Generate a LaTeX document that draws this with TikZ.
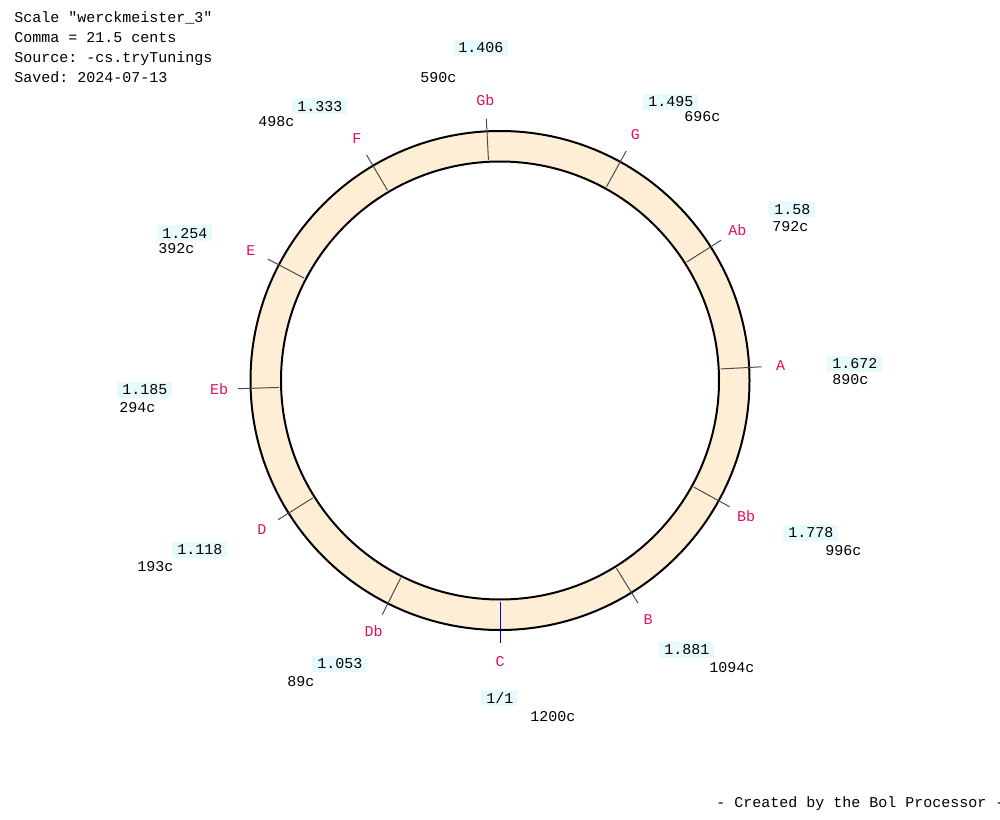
\documentclass[tikz,border=0pt]{standalone}
\usepackage{fontspec}
\setmonofont{Liberation Mono}
\definecolor{ringfill}{HTML}{FFEED6}
\definecolor{notered}{HTML}{E0105E}
\definecolor{ratiobg}{HTML}{E8FBFC}
\usetikzlibrary{calc, positioning}
\newcommand{\pxfont}{\fontsize{11.25pt}{15pt}\ttfamily\selectfont}

\begin{document}
\begin{tikzpicture}[
    x=0.75pt, y=-0.75pt,
    every node/.style={font=\pxfont, inner sep=0pt},
    note/.style={text=notered, anchor=center},
    ratio/.style={fill=ratiobg, anchor=west, inner xsep=3.75pt,
                  minimum height=12pt},
    cent/.style={anchor=west},
    tick/.style={black!70, line width=0.75pt},
    rim/.style={black, line width=1.5pt}
  ]
  \useasboundingbox (0,0) rectangle (1000,820);
  \coordinate (ctr) at (500,380.5);

  % ring
  \fill[ringfill, even odd rule] (ctr) circle (249.5) (ctr) circle (219);
  \draw[rim] (ctr) circle (249.5);
  \draw[rim] (ctr) circle (219);

  % header
  \node[anchor=base west] (hdr1) at (14,23) {Scale "werckmeister\_3"};
  \node[anchor=base west] (hdr2) at (14,43) {Comma = 21.5 cents};
  \node[anchor=base west] (hdr3) at (14,63) {Source: -cs.tryTunings};
  \node[anchor=base west] (hdr4) at (14,83) {Saved: 2024-07-13};

  % ticks and note names
  \draw[blue, line width=0.75pt] (ctr) ++(90:221) -- ++(90:41);
  \node[note] (C) at ($(ctr)+(90:281)$) {C};
  \foreach \cents/\name in {89/Db, 193/D, 294/Eb, 392/E, 498/F, 590/Gb,
                            696/G, 792/Ab, 890/A, 996/Bb, 1094/B}{
    \draw[tick] (ctr) ++(90+\cents*0.3:221) -- ++(90+\cents*0.3:41);
    \node[note] (\name) at ($(ctr)+(90+\cents*0.3:281)$) {\name};
  }

  % ratios
  \node[ratio] (r11)   at (481,698)   {1/1};
  \node[ratio] (r1053) at (312,663.5) {1.053};
  \node[ratio] (r1118) at (172,549.5) {1.118};
  \node[ratio] (r1185) at (117,390)   {1.185};
  \node[ratio] (r1254) at (157,233.5) {1.254};
  \node[ratio] (r1333) at (292,106.5) {1.333};
  \node[ratio] (r1406) at (453,48)    {1.406};
  \node[ratio] (r1495) at (643,102)   {1.495};
  \node[ratio] (r158)  at (769,209.5) {1.58};
  \node[ratio] (r1672) at (827,363.5) {1.672};
  \node[ratio] (r1778) at (783,533)   {1.778};
  \node[ratio] (r1881) at (659,650)   {1.881};

  % cents
  \node[cent] (c1200) at (530,717) {1200c};
  \node[cent] (c89)   at (287,682) {89c};
  \node[cent] (c193)  at (137,567) {193c};
  \node[cent] (c294)  at (119,408) {294c};
  \node[cent] (c392)  at (158,249) {392c};
  \node[cent] (c498)  at (258,122) {498c};
  \node[cent] (c590)  at (420,78)  {590c};
  \node[cent] (c696)  at (684,117) {696c};
  \node[cent] (c792)  at (772,227) {792c};
  \node[cent] (c890)  at (832,380) {890c};
  \node[cent] (c996)  at (825,551) {996c};
  \node[cent] (c1094) at (709,668) {1094c};

  \node[anchor=base west] (credit) at (716,807) {- Created by the Bol Processor -};
\end{tikzpicture}
\end{document}
